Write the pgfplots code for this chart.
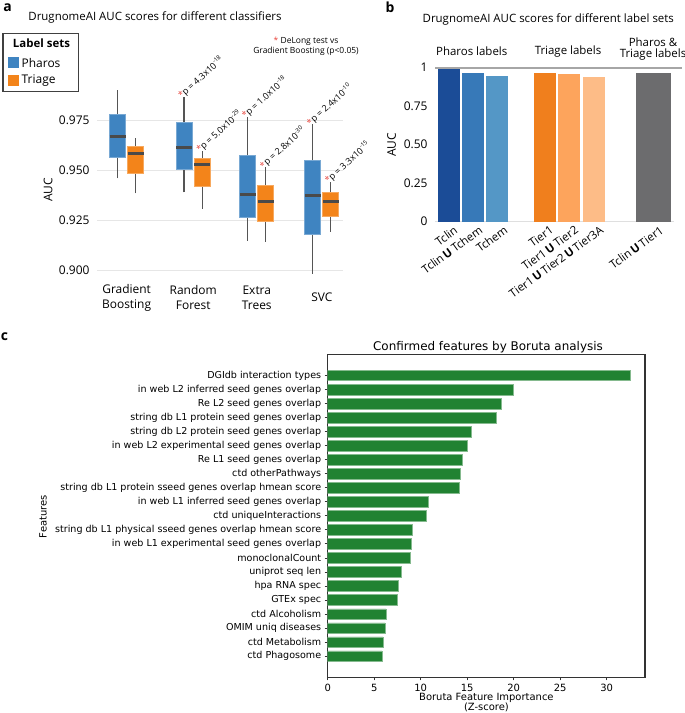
\documentclass[border=0pt]{standalone}
\usepackage{fontspec}
\setmainfont{Open Sans}
\newfontfamily\dejavu{DejaVu Sans}
\usepackage{pgfplots}
\pgfplotsset{compat=1.18}

\definecolor{pharos}{HTML}{3F84C1}
\definecolor{triage}{HTML}{F3841A}
\definecolor{medc}{HTML}{4A4A4A}
\definecolor{whisk}{HTML}{555555}
\definecolor{pred}{HTML}{E8473F}
\definecolor{gridc}{HTML}{E6E6E6}
\definecolor{bA}{HTML}{1B4C97}
\definecolor{bB}{HTML}{3779B8}
\definecolor{bC}{HTML}{5497C6}
\definecolor{bD}{HTML}{F07F1D}
\definecolor{bE}{HTML}{FDA45C}
\definecolor{bF}{HTML}{FDBC87}
\definecolor{bG}{HTML}{6C6C6E}
\definecolor{boruta}{HTML}{218232}

\newcommand{\fs}[1]{\fontsize{#1}{#1}\selectfont}
% box: x1 xc x2 lowerwhisker q1 median q3 upperwhisker colour
\newcommand{\bx}[9]{%
  \addplot[whisk, line width=1.2bp] coordinates {(#2,#4) (#2,#5)};
  \addplot[whisk, line width=1.2bp] coordinates {(#2,#7) (#2,#8)};
  \addplot[fill=#9, draw=#9!70!white, line width=0.8bp] coordinates {(#1,#5) (#3,#5) (#3,#7) (#1,#7)} --cycle;
  \addplot[medc, line width=2.6bp] coordinates {(#1,#6) (#3,#6)};
}
\newcommand{\Un}{\,\textbf{U}\,}

\begin{document}
\begin{tikzpicture}
\path[use as bounding box] (0,0) rectangle (685bp,-713bp);

% ---------------- panel a ----------------
\node[font=\bfseries\fs{14}, anchor=center] at (7.5bp,-7.5bp) {a};
\node[font=\fs{11.5}] at (155bp,-17bp) {DrugnomeAI AUC scores for different classifiers};
\node[font=\fs{8.5}, align=center, inner sep=0pt] at (306bp,-46.5bp)
  {\textcolor{pred}{*} DeLong test vs\\[1pt]Gradient Boosting (p<0.05)};
% legend
\draw[draw=black!75, line width=1.3bp] (3bp,-33.3bp) rectangle (78.3bp,-91.7bp);
\node[font=\bfseries\fs{11.5}] at (41.5bp,-43.7bp) {Label sets};
\fill[pharos] (8.3bp,-57.3bp) rectangle (19.3bp,-68.3bp);
\node[font=\fs{12}, anchor=west, inner sep=0pt] at (21.5bp,-62.7bp) {Pharos};
\fill[triage] (8.3bp,-75bp) rectangle (19.3bp,-86bp);
\node[font=\fs{12}, anchor=west, inner sep=0pt] at (21.5bp,-80.5bp) {Triage};
\node[font=\fs{12}, rotate=90] at (48bp,-190bp) {AUC};

\begin{axis}[
  at={(97bp,-277.7bp)}, anchor=south west,
  width=246bp, height=190bp, scale only axis,
  xmin=97, xmax=343, ymin=0.8965, ymax=0.9915,
  clip=false,
  axis line style={draw=none},
  major tick length=0pt,
  ytick={0.9,0.925,0.95,0.975},
  ymajorgrids, grid style={draw=gridc, line width=0.9bp},
  /pgf/number format/assume math mode=true,
  yticklabel style={/pgf/number format/fixed, /pgf/number format/fixed zerofill, /pgf/number format/precision=3, xshift=-4bp},
  tick label style={font=\fs{12}},
  xtick={126.6,193.2,256.8,321.8},
  xticklabels={Gradient\\Boosting, Random\\Forest, Extra\\Trees, SVC},
  xticklabel style={font=\fontsize{12}{14.5}\selectfont, align=center, anchor=center, yshift=-20bp},
]
\bx{109.5}{117.5}{125.5}{0.9462}{0.9565}{0.967}{0.9783}{0.9904}{pharos}
\bx{127.7}{135.7}{143.7}{0.9387}{0.9487}{0.9585}{0.9622}{0.9662}{triage}
\bx{176}{184}{192}{0.9392}{0.9505}{0.9617}{0.9742}{0.987}{pharos}
\bx{194.3}{202.3}{210.3}{0.9309}{0.942}{0.9532}{0.9562}{0.9598}{triage}
\bx{239.8}{247.8}{255.8}{0.915}{0.9269}{0.9382}{0.9575}{0.977}{pharos}
\bx{257.8}{265.8}{273.8}{0.9145}{0.9245}{0.9345}{0.9425}{0.9517}{triage}
\bx{304.8}{312.8}{320.8}{0.8984}{0.918}{0.9375}{0.955}{0.9732}{pharos}
\bx{322.8}{330.8}{338.8}{0.9195}{0.927}{0.9345}{0.9392}{0.9445}{triage}

\tikzset{pv/.style={rotate=42, anchor=base west, font=\fs{9}, inner sep=0pt}}
\node[pv] at ([xshift=-2.5bp,yshift=-2bp]axis cs:184,0.987) {\textcolor{pred}{*}p = 4.3x10\textsuperscript{-18}};
\node[pv] at ([xshift=-2.5bp,yshift=-2bp]axis cs:202.3,0.9598) {\textcolor{pred}{*}p = 5.0x10\textsuperscript{-29}};
\node[pv] at ([xshift=-2.5bp,yshift=-2bp]axis cs:247.8,0.977) {\textcolor{pred}{*}p = 1.0x10\textsuperscript{-18}};
\node[pv] at ([xshift=-2.5bp,yshift=-2bp]axis cs:265.8,0.9517) {\textcolor{pred}{*}p = 2.8x10\textsuperscript{-30}};
\node[pv] at ([xshift=-2.5bp,yshift=-2bp]axis cs:312.8,0.9732) {\textcolor{pred}{*}p = 2.4x10\textsuperscript{-10}};
\node[pv] at ([xshift=-2.5bp,yshift=-2bp]axis cs:330.8,0.9445) {\textcolor{pred}{*}p = 3.3x10\textsuperscript{-15}};
\end{axis}

% ---------------- panel b ----------------
\node[font=\bfseries\fs{14}] at (390bp,-7.5bp) {b};
\node[font=\fs{11.5}] at (548.3bp,-19bp) {DrugnomeAI AUC scores for different label sets};
\node[font=\fs{11.5}] at (471.7bp,-51.7bp) {Pharos labels};
\node[font=\fs{11.5}] at (568bp,-51.7bp) {Triage labels};
\node[font=\fs{11.5}, align=center] at (653bp,-49bp) {Pharos \&\\[-1pt]Triage labels};
\node[font=\fs{12}, rotate=90] at (391.7bp,-145bp) {AUC};

\begin{axis}[
  at={(435bp,-221.7bp)}, anchor=south west,
  width=247bp, height=154bp, scale only axis,
  xmin=435, xmax=682, ymin=0, ymax=1,
  clip=false,
  axis line style={draw=none},
  major tick length=0pt,
  ytick={0,0.25,0.5,0.75,1},
  yticklabels={0,0.25,0.50,0.75,1},
  /pgf/number format/assume math mode=true,
  yticklabel style={font=\fs{12}, xshift=-4bp},
  xtick={451,476,501,547,572,597,657},
  xticklabels={Tclin, Tclin\Un Tchem, Tchem, Tier1, Tier1\Un Tier2, Tier1\Un Tier2\Un Tier3A, Tclin\Un Tier1},
  xticklabel style={font=\fs{11.5}, rotate=36, anchor=north east, inner sep=0pt, yshift=-4bp},
]
\addplot[gray!25, line width=0.8bp] coordinates {(435,0) (674,0)};
\addplot[ybar, bar width=21.7, bar shift=0, fill=bA, draw=none] coordinates {(449.2,0.9896)};
\addplot[ybar, bar width=21.7, bar shift=0, fill=bB, draw=none] coordinates {(473,0.9675)};
\addplot[ybar, bar width=21.7, bar shift=0, fill=bC, draw=none] coordinates {(497,0.946)};
\addplot[ybar, bar width=21.7, bar shift=0, fill=bD, draw=none] coordinates {(544.8,0.9675)};
\addplot[ybar, bar width=21.7, bar shift=0, fill=bE, draw=none] coordinates {(569,0.959)};
\addplot[ybar, bar width=21.7, bar shift=0, fill=bF, draw=none] coordinates {(593.7,0.9396)};
\addplot[ybar, bar width=34.7, bar shift=0, fill=bG, draw=none] coordinates {(653.3,0.9675)};
\addplot[gray!70, line width=1.6bp] coordinates {(435,1) (682,1)};
\end{axis}

% ---------------- panel c ----------------
\node[font=\bfseries\fs{14}] at (4.5bp,-337bp) {c};
\node[font=\dejavu\fs{12}] at (488bp,-347.5bp) {Confirmed features by Boruta analysis};
\node[font=\dejavu\fs{10}, rotate=90] at (43bp,-516.7bp) {Features};
\node[font=\dejavu\fontsize{10}{10.6}\selectfont, align=center] at (486.4bp,-702.5bp) {Boruta Feature Importance\\(Z-score)};

\begin{axis}[
  at={(327.7bp,-677.3bp)}, anchor=south west,
  width=317.3bp, height=323bp, scale only axis,
  xmin=0, xmax=34.12, ymin=-1.5, ymax=21.5, y dir=reverse,
  axis line style={draw=black!80, line width=1.1bp},
  tick style={draw=black!80, line width=0.8bp},
  tick align=outside, major tick length=3bp,
  xtick pos=bottom, ytick pos=left,
  xtick={0,5,...,30},
  ytick={0,...,20},
  /pgf/number format/assume math mode=true,
  xticklabel style={font=\dejavu\fs{10}},
  yticklabel style={font=\dejavu\fs{9.6}},
  yticklabels={DGIdb interaction types, in web L2 inferred seed genes overlap, Re L2 seed genes overlap, string db L1 protein seed genes overlap, string db L2 protein seed genes overlap, in web L2 experimental seed genes overlap, Re L1 seed genes overlap, ctd otherPathways, string db L1 protein sseed genes overlap hmean score, in web L1 inferred seed genes overlap, ctd uniqueInteractions, string db L1 physical sseed genes overlap hmean score, in web L1 experimental seed genes overlap, monoclonalCount, uniprot seq len, hpa RNA spec, GTEx spec, ctd Alcoholism, OMIM uniq diseases, ctd Metabolism, ctd Phagosome},
]
\addplot[xbar, bar width=0.76, bar shift=0, fill=boruta, draw=boruta!55!white, line width=0.5bp] coordinates {
(32.5,0) (19.9,1) (18.7,2) (18.15,3) (15.47,4) (15.04,5) (14.48,6) (14.3,7) (14.15,8) (10.81,9)
(10.58,10) (9.07,11) (8.98,12) (8.93,13) (7.9,14) (7.62,15) (7.48,16) (6.25,17) (6.16,18) (5.92,19) (5.83,20)
};
\end{axis}
\end{tikzpicture}
\end{document}
